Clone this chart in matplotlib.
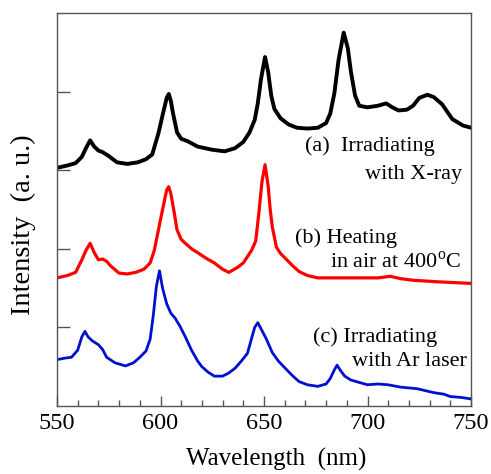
import matplotlib
matplotlib.use("Agg")
import matplotlib.pyplot as plt
from matplotlib.ticker import MultipleLocator

plt.rcParams['font.family'] = ['Liberation Serif', 'DejaVu Serif']
plt.rcParams['mathtext.fontset'] = 'custom'
plt.rcParams['mathtext.rm'] = 'Liberation Serif'

# (a) irradiating with X-ray
wl_a = [550, 555, 559, 562, 564, 566, 568, 570, 572, 575, 579, 584, 589, 593, 596,
        599, 601, 603, 604, 605, 606, 608, 610, 613, 618, 625, 631, 636, 640, 643,
        645.5, 647, 648.5, 650.5, 652, 653.5, 655, 658, 662, 666, 671, 676, 680, 682,
        684, 686, 688.5, 690.5, 692, 694, 696, 700, 705, 709, 712, 715, 719, 722,
        725, 729, 732, 736, 741, 746, 750]
int_a = [3.03, 3.06, 3.09, 3.17, 3.28, 3.38, 3.30, 3.25, 3.23, 3.18, 3.10, 3.08, 3.10, 3.14, 3.20,
         3.47, 3.70, 3.92, 3.97, 3.88, 3.73, 3.48, 3.40, 3.37, 3.30, 3.26, 3.24, 3.28, 3.36, 3.48,
         3.64, 3.85, 4.15, 4.44, 4.25, 3.95, 3.78, 3.66, 3.58, 3.54, 3.53, 3.54, 3.60, 3.72,
         3.98, 4.40, 4.75, 4.55, 4.25, 3.95, 3.82, 3.80, 3.82, 3.85, 3.80, 3.76, 3.77, 3.82,
         3.92, 3.96, 3.93, 3.84, 3.65, 3.57, 3.54]

# (b) heating in air at 400 C
wl_b = [550, 555, 559, 562, 564, 566, 568, 570, 572, 574, 576, 580, 584, 588, 592,
        595, 597, 599, 601, 603, 604, 605, 606.5, 608, 610, 612, 615, 618, 622, 626,
        630, 633, 637, 640, 642, 644, 646, 647.5, 649, 650.5, 652, 653, 654, 656,
        658, 661, 664, 667, 671, 676, 685, 692, 700, 705, 711, 716, 722, 728, 734,
        742, 750]
int_b = [1.63, 1.66, 1.70, 1.86, 1.98, 2.07, 1.95, 1.86, 1.87, 1.84, 1.78, 1.69, 1.68, 1.70, 1.74,
         1.82, 1.98, 2.24, 2.50, 2.75, 2.79, 2.70, 2.48, 2.24, 2.12, 2.07, 2.00, 1.95, 1.88, 1.82,
         1.74, 1.70, 1.76, 1.82, 1.90, 1.98, 2.10, 2.45, 2.85, 3.07, 2.80, 2.50, 2.28, 2.02,
         1.94, 1.86, 1.78, 1.71, 1.66, 1.63, 1.63, 1.63, 1.63, 1.63, 1.65, 1.62, 1.60, 1.59, 1.58,
         1.57, 1.56]

# (c) irradiating with Ar laser
wl_c = [550, 554, 557, 560, 562, 563.5, 565, 567, 570, 572, 574, 578, 583, 587, 590,
        593, 595, 596.5, 598, 599.5, 601, 603, 605, 607, 609.5, 612, 615, 618, 620,
        623, 626, 630, 633, 636, 639, 642, 644, 645.5, 647, 649, 651, 654, 657, 661,
        664, 667, 671, 676, 680, 682, 684, 685.3, 687, 689, 692, 696, 700, 705, 710,
        716, 724, 732, 737, 740, 745, 750]
int_c = [0.59, 0.61, 0.62, 0.71, 0.88, 0.95, 0.88, 0.83, 0.78, 0.72, 0.62, 0.55, 0.51, 0.55, 0.62,
         0.70, 0.85, 1.15, 1.52, 1.72, 1.50, 1.30, 1.18, 1.12, 1.01, 0.88, 0.71, 0.57, 0.50,
         0.43, 0.38, 0.38, 0.42, 0.48, 0.57, 0.67, 0.86, 1.00, 1.06, 0.96, 0.86, 0.68, 0.57, 0.46,
         0.38, 0.31, 0.27, 0.25, 0.28, 0.35, 0.46, 0.52, 0.45, 0.38, 0.33, 0.30, 0.27, 0.28, 0.27,
         0.24, 0.22, 0.17, 0.15, 0.12, 0.11, 0.09]

fig = plt.figure(figsize=(4.91, 4.74), dpi=100)
ax = fig.add_axes([57 / 491, 1 - 406 / 474, 414 / 491, 393 / 474])

ax.plot(wl_a, int_a, color='black', lw=2.8)
ax.plot(wl_b, int_b, color='#ff0000', lw=2.3)
ax.plot(wl_c, int_c, color='#0010d0', lw=2.0)

ax.set_xlim(550, 750)
ax.set_ylim(0, 5)
ax.xaxis.set_major_locator(MultipleLocator(50))
ax.xaxis.set_minor_locator(MultipleLocator(10))
ax.set_yticks([1, 2, 3, 4])
ax.set_yticklabels([])
ax.tick_params(which='both', direction='in', color='#555555', width=1)
ax.tick_params(which='major', length=7, labelsize=17.5, pad=5)
ax.tick_params(which='minor', length=4)
ax.tick_params(axis='y', which='major', length=9)
for sp in ax.spines.values():
    sp.set_color('#555555')
    sp.set_linewidth(1)

fs = 16
ax.text(669.8, 3.30, "(a)  Irradiating", fontsize=fs, ha='left', va='center')
ax.text(745.6, 2.94, "with X-ray", fontsize=fs, ha='right', va='center')
ax.text(665, 2.14, "(b) Heating", fontsize=fs, ha='left', va='center')
ax.text(682, 1.83, "in air at 400$^{\\mathrm{o}}$C", fontsize=fs, ha='left', va='center')
ax.text(673.7, 0.88, "(c) Irradiating", fontsize=fs, ha='left', va='center')
ax.text(748, 0.56, "with Ar laser", fontsize=fs, ha='right', va='center')

fig.text(23 / 491, 1 - 225 / 474, "Intensity  (a. u.)", fontsize=20.5,
         rotation=90, ha='center', va='center')
fig.text(276 / 491, 1 - 459 / 474, "Wavelength  (nm)", fontsize=18,
         ha='center', va='center')

fig.savefig("out.png", dpi=100)
